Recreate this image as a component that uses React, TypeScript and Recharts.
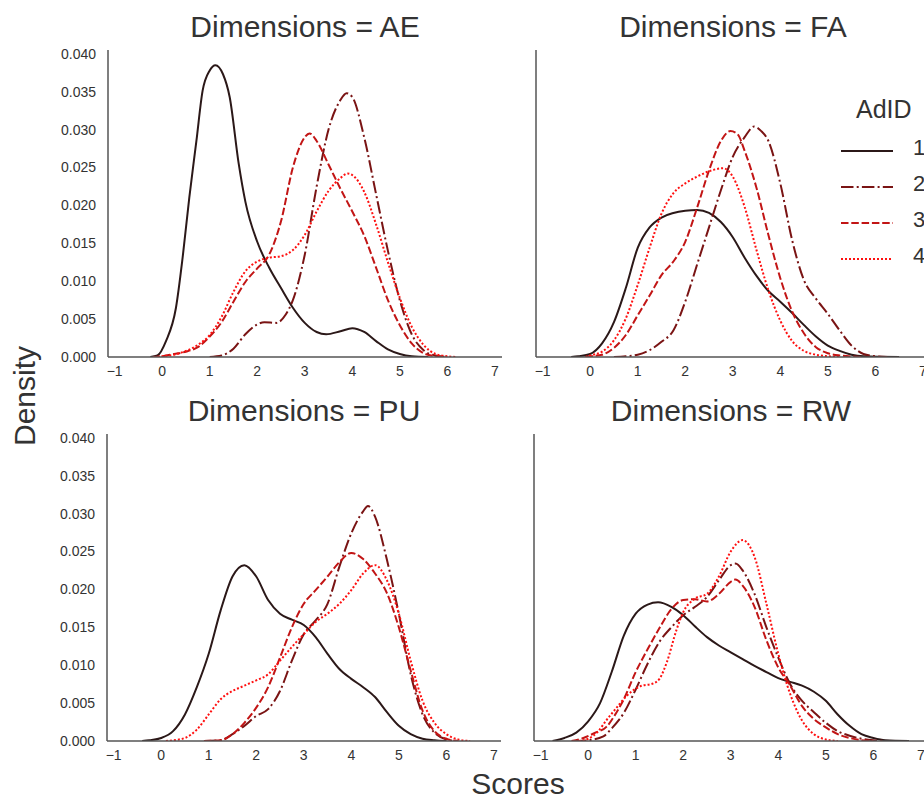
import React from 'react';
import { LineChart, Line, XAxis, YAxis } from 'recharts';

type Pt = [number, number];

// axis ticks and labels
const scoreTicks = [-1, 0, 1, 2, 3, 4, 5, 6, 7];
const densityTicks = [0, 0.005, 0.01, 0.015, 0.02, 0.025, 0.03, 0.035, 0.04];
const adIds = ['1', '2', '3', '4'];
const dimensions = ['AE', 'FA', 'PU', 'RW'];

// KDE curves: [score, density]
const ae1: Pt[] = [[-0.25, 0], [-0.1, 0.0002], [0.08, 0.0021], [0.29, 0.0065], [0.43, 0.0131], [0.57, 0.021], [0.72, 0.0285], [0.85, 0.0351], [1.0, 0.0378], [1.12, 0.0385], [1.28, 0.0373], [1.42, 0.0343], [1.61, 0.0255], [1.75, 0.0205], [2.0, 0.0152], [2.25, 0.0118], [2.5, 0.0091], [2.75, 0.0065], [3.0, 0.0045], [3.25, 0.0033], [3.45, 0.003], [3.75, 0.0034], [4.0, 0.0038], [4.25, 0.0033], [4.5, 0.0021], [4.75, 0.001], [5.0, 0.0004], [5.25, 0.0001], [5.6, 0]];
const ae2: Pt[] = [[1.0, 0], [1.25, 0.0002], [1.5, 0.0011], [1.75, 0.003], [2.0, 0.0043], [2.15, 0.0046], [2.4, 0.0045], [2.6, 0.0056], [2.75, 0.0075], [3.0, 0.0135], [3.25, 0.0225], [3.5, 0.03], [3.75, 0.0339], [3.88, 0.0348], [4.0, 0.0343], [4.25, 0.029], [4.5, 0.0215], [4.75, 0.014], [5.0, 0.0075], [5.25, 0.003], [5.5, 0.0009], [5.75, 0.0002], [6.0, 0]];
const ae3: Pt[] = [[-0.2, 0], [0, 0.0001], [0.25, 0.0004], [0.5, 0.0007], [0.75, 0.0013], [1.0, 0.0027], [1.25, 0.0046], [1.5, 0.0073], [1.75, 0.0099], [2.0, 0.0117], [2.25, 0.0135], [2.5, 0.0179], [2.75, 0.025], [3.0, 0.029], [3.1, 0.0295], [3.25, 0.0285], [3.5, 0.0254], [3.75, 0.0222], [4.0, 0.0192], [4.25, 0.016], [4.5, 0.0118], [4.75, 0.0075], [5.0, 0.0042], [5.25, 0.0018], [5.5, 0.0005], [5.75, 0.0001], [6.0, 0]];
const ae4: Pt[] = [[-0.1, 0], [0, 0.0001], [0.25, 0.0003], [0.5, 0.0008], [0.75, 0.0016], [1.0, 0.0029], [1.25, 0.0053], [1.5, 0.0086], [1.75, 0.0113], [2.0, 0.0126], [2.25, 0.0131], [2.5, 0.0133], [2.75, 0.0141], [3.0, 0.0161], [3.25, 0.0192], [3.5, 0.0219], [3.75, 0.0236], [3.9, 0.0242], [4.0, 0.024], [4.25, 0.0218], [4.5, 0.0175], [4.75, 0.0125], [5.0, 0.0078], [5.25, 0.004], [5.5, 0.0016], [5.75, 0.0004], [6.0, 0.0001], [6.2, 0]];

const fa1: Pt[] = [[-0.4, 0], [-0.25, 0.0001], [0, 0.0004], [0.25, 0.0018], [0.5, 0.0046], [0.75, 0.0091], [1.0, 0.0144], [1.25, 0.0171], [1.5, 0.0184], [1.75, 0.019], [2.0, 0.0193], [2.25, 0.0194], [2.5, 0.019], [2.75, 0.0178], [3.0, 0.0158], [3.25, 0.0131], [3.5, 0.0107], [3.75, 0.0087], [4.0, 0.0073], [4.25, 0.0058], [4.5, 0.0042], [4.75, 0.0027], [5.0, 0.0015], [5.25, 0.0008], [5.5, 0.0003], [5.75, 0.0001], [6.5, 0]];
const fa2: Pt[] = [[0.5, 0], [0.75, 0.0001], [1.0, 0.0003], [1.25, 0.0009], [1.5, 0.002], [1.75, 0.0035], [2.0, 0.0073], [2.25, 0.0122], [2.5, 0.0171], [2.75, 0.022], [3.0, 0.0264], [3.25, 0.029], [3.45, 0.0304], [3.6, 0.0298], [3.75, 0.0285], [4.0, 0.0229], [4.25, 0.0154], [4.5, 0.0101], [4.75, 0.0077], [5.0, 0.0057], [5.25, 0.0035], [5.5, 0.0015], [5.75, 0.0004], [6.0, 0.0001], [6.25, 0]];
const fa3: Pt[] = [[-0.1, 0], [0, 0.0001], [0.25, 0.0003], [0.5, 0.0012], [0.75, 0.0029], [1.0, 0.0055], [1.25, 0.0081], [1.5, 0.0108], [1.75, 0.0126], [2.0, 0.0152], [2.25, 0.0197], [2.5, 0.0246], [2.75, 0.0285], [2.95, 0.0298], [3.1, 0.0294], [3.25, 0.0272], [3.5, 0.0223], [3.75, 0.0161], [4.0, 0.0104], [4.25, 0.006], [4.5, 0.0031], [4.75, 0.0013], [5.0, 0.0005], [5.25, 0.0002], [5.75, 0]];
const fa4: Pt[] = [[-0.1, 0], [0, 0.0002], [0.25, 0.0007], [0.5, 0.0022], [0.75, 0.0051], [1.0, 0.0095], [1.25, 0.0144], [1.5, 0.0189], [1.75, 0.0216], [2.0, 0.0229], [2.25, 0.0238], [2.5, 0.0245], [2.8, 0.0249], [3.0, 0.0238], [3.25, 0.0198], [3.5, 0.0141], [3.75, 0.0088], [4.0, 0.0048], [4.25, 0.0021], [4.5, 0.0008], [4.75, 0.0003], [5.0, 0.0001], [5.25, 0]];

const pu1: Pt[] = [[-0.4, 0], [-0.25, 0.0001], [0, 0.0004], [0.25, 0.0013], [0.5, 0.0035], [0.75, 0.0071], [1.0, 0.0115], [1.25, 0.0172], [1.5, 0.0217], [1.75, 0.0232], [2.0, 0.0217], [2.25, 0.0186], [2.5, 0.0168], [2.75, 0.016], [3.0, 0.0153], [3.25, 0.0137], [3.5, 0.0115], [3.75, 0.0095], [4.0, 0.0082], [4.25, 0.0071], [4.5, 0.0058], [4.75, 0.0038], [5.0, 0.002], [5.25, 0.0009], [5.5, 0.0003], [5.75, 0.0001], [6.0, 0]];
const pu2: Pt[] = [[0.9, 0], [1.25, 0.0001], [1.5, 0.0009], [1.75, 0.002], [2.0, 0.0033], [2.25, 0.0042], [2.5, 0.0066], [2.75, 0.0106], [3.0, 0.0141], [3.25, 0.0159], [3.5, 0.0181], [3.75, 0.023], [4.0, 0.0274], [4.25, 0.0303], [4.35, 0.031], [4.5, 0.0296], [4.75, 0.0239], [5.0, 0.0168], [5.25, 0.0088], [5.5, 0.0035], [5.75, 0.0011], [6.0, 0.0002], [6.25, 0]];
const pu3: Pt[] = [[0.9, 0], [1.25, 0.0001], [1.5, 0.0009], [1.75, 0.0024], [2.0, 0.0044], [2.25, 0.0071], [2.5, 0.011], [2.75, 0.015], [3.0, 0.0181], [3.25, 0.0199], [3.5, 0.0217], [3.75, 0.0236], [4.0, 0.0248], [4.25, 0.024], [4.5, 0.0221], [4.75, 0.0195], [5.0, 0.015], [5.25, 0.0093], [5.5, 0.004], [5.75, 0.0013], [6.0, 0.0003], [6.25, 0]];
const pu4: Pt[] = [[0.1, 0], [0.25, 0.0001], [0.5, 0.0004], [0.75, 0.0015], [1.0, 0.0035], [1.25, 0.0055], [1.5, 0.0066], [1.75, 0.0073], [2.0, 0.008], [2.25, 0.0088], [2.5, 0.0106], [2.75, 0.0124], [3.0, 0.0141], [3.25, 0.0157], [3.5, 0.0168], [3.75, 0.0181], [4.0, 0.0199], [4.25, 0.0221], [4.5, 0.0232], [4.75, 0.0212], [5.0, 0.0168], [5.25, 0.0106], [5.5, 0.0053], [5.75, 0.0024], [6.0, 0.0009], [6.25, 0.0002], [6.5, 0]];

const rw1: Pt[] = [[-0.75, 0], [-0.5, 0.0004], [-0.25, 0.0011], [0, 0.0026], [0.25, 0.005], [0.5, 0.0092], [0.75, 0.0139], [1.0, 0.0168], [1.25, 0.018], [1.47, 0.0183], [1.75, 0.0177], [2.0, 0.0166], [2.25, 0.0151], [2.5, 0.0137], [2.75, 0.0126], [3.0, 0.0117], [3.25, 0.0108], [3.5, 0.0099], [3.75, 0.0091], [4.0, 0.0083], [4.25, 0.0078], [4.5, 0.0073], [4.75, 0.0065], [5.0, 0.0053], [5.25, 0.0035], [5.5, 0.002], [5.75, 0.0009], [6.0, 0.0004], [6.25, 0.0001], [6.75, 0]];
const rw2: Pt[] = [[-0.3, 0], [0, 0.0001], [0.32, 0.0006], [0.5, 0.0017], [0.75, 0.0037], [1.0, 0.0068], [1.25, 0.0102], [1.5, 0.0131], [1.75, 0.015], [2.0, 0.0166], [2.25, 0.0177], [2.5, 0.019], [2.75, 0.0212], [3.0, 0.0232], [3.1, 0.0234], [3.25, 0.0225], [3.5, 0.0194], [3.75, 0.015], [4.0, 0.011], [4.25, 0.0075], [4.5, 0.0053], [4.75, 0.0038], [5.0, 0.0024], [5.25, 0.0013], [5.5, 0.0007], [5.75, 0.0003], [6.0, 0.0001], [6.25, 0]];
const rw3: Pt[] = [[-0.35, 0], [-0.1, 0.0004], [0.15, 0.0011], [0.39, 0.0019], [0.55, 0.0033], [0.74, 0.0054], [1.0, 0.0091], [1.25, 0.0121], [1.5, 0.0149], [1.75, 0.0174], [2.0, 0.0186], [2.25, 0.0187], [2.5, 0.0184], [2.75, 0.0194], [3.0, 0.021], [3.1, 0.0213], [3.25, 0.0205], [3.5, 0.0177], [3.75, 0.0133], [4.0, 0.0097], [4.25, 0.0073], [4.5, 0.0046], [4.75, 0.0029], [5.0, 0.0018], [5.25, 0.0009], [5.5, 0.0004], [5.75, 0.0001], [6.0, 0]];
const rw4: Pt[] = [[-0.2, 0], [0, 0.0003], [0.2, 0.0012], [0.39, 0.0028], [0.6, 0.0044], [0.8, 0.0059], [1.09, 0.0072], [1.37, 0.0076], [1.5, 0.0082], [1.65, 0.0103], [1.86, 0.0147], [2.0, 0.017], [2.25, 0.0188], [2.5, 0.0194], [2.75, 0.0217], [3.0, 0.025], [3.25, 0.0265], [3.5, 0.0243], [3.75, 0.0181], [4.0, 0.0115], [4.25, 0.0062], [4.5, 0.0027], [4.75, 0.0009], [5.0, 0.0002], [5.25, 0]];

const curvesByDim: Record<string, Pt[][]> = {
  AE: [ae1, ae2, ae3, ae4],
  FA: [fa1, fa2, fa3, fa4],
  PU: [pu1, pu2, pu3, pu4],
  RW: [rw1, rw2, rw3, rw4],
};

const FONT = '"Liberation Sans", Arial, Helvetica, sans-serif';
const TEXT = '#333';
const AXIS = '#555';
const colors = ['#2b1818', '#7a1414', '#c21515', '#ff1010'];
const dashes = [undefined, '12.5 3.2 2 3.2', '7.5 2.8', '2 2'];

const PLOT_W = 394;
const PLOT_H = 307;
const X_DOMAIN: [number, number] = [-1.14, 7.15];
const Y_DOMAIN: [number, number] = [0, 0.0405];

// plot-area top-left for each facet, in page pixels
const layout = [
  { left: 108, top: 50, showY: true },
  { left: 536, top: 50, showY: false },
  { left: 107, top: 434, showY: true },
  { left: 534, top: 434, showY: false },
];

const fmtScore = (v: number) => (v < 0 ? '\u2212' + Math.abs(v) : String(v));

function Facet({ dim, left, top, showY }: { dim: string; left: number; top: number; showY: boolean }) {
  const yw = showY ? 100 : 1;
  const tick = { fill: TEXT, fontSize: 14, fontFamily: FONT };
  return (
    <div style={{ position: 'absolute', left: left - yw, top: top - 10 }}>
      <LineChart
        width={yw + PLOT_W + 10}
        height={10 + PLOT_H + 30}
        margin={{ top: 10, right: 10, bottom: 0, left: 0 }}
      >
        <XAxis
          type="number"
          dataKey="x"
          domain={X_DOMAIN}
          ticks={scoreTicks}
          interval={0}
          allowDataOverflow
          tickLine={false}
          axisLine={{ stroke: AXIS, strokeWidth: 1.5 }}
          tick={tick}
          tickFormatter={fmtScore}
          tickMargin={3}
          height={30}
        />
        <YAxis
          type="number"
          domain={Y_DOMAIN}
          ticks={densityTicks}
          allowDataOverflow
          width={yw}
          tickLine={false}
          axisLine={{ stroke: AXIS, strokeWidth: 1.5 }}
          tick={showY ? tick : false}
          tickFormatter={(v: number) => v.toFixed(3)}
          tickMargin={6}
        />
        {curvesByDim[dim].map((pts, i) => (
          <Line
            key={adIds[i]}
            name={adIds[i]}
            data={pts.map(([x, y]) => ({ x, y }))}
            dataKey="y"
            type="monotone"
            stroke={colors[i]}
            strokeWidth={2}
            strokeDasharray={dashes[i]}
            dot={false}
            activeDot={false}
            isAnimationActive={false}
          />
        ))}
      </LineChart>
    </div>
  );
}

export default function App() {
  const legendRows = [151, 187, 223, 259];
  return (
    <div
      style={{
        position: 'fixed',
        left: 0,
        top: 0,
        width: 924,
        height: 796,
        overflow: 'hidden',
        background: '#fff',
      }}
    >
      {dimensions.map((dim, i) => (
        <Facet key={dim} dim={dim} {...layout[i]} />
      ))}
      <svg
        width={924}
        height={796}
        style={{ position: 'absolute', left: 0, top: 0, pointerEvents: 'none' }}
        fontFamily={FONT}
      >
        {dimensions.map((dim, i) => (
          <text
            key={dim}
            x={layout[i].left + PLOT_W / 2}
            y={layout[i].top - 13}
            textAnchor="middle"
            fontSize={30}
            fill={TEXT}
          >
            {`Dimensions = ${dim}`}
          </text>
        ))}
        <text x={35} y={396} transform="rotate(-90 35 396)" textAnchor="middle" fontSize={30} fill={TEXT}>
          Density
        </text>
        <text x={518} y={794} textAnchor="middle" fontSize={30} fill={TEXT}>
          Scores
        </text>
        {/* legend */}
        <text x={856} y={118} fontSize={25} fill={TEXT}>
          AdID
        </text>
        {adIds.map((id, i) => (
          <g key={id}>
            <line
              x1={841}
              x2={893}
              y1={legendRows[i]}
              y2={legendRows[i]}
              stroke={colors[i]}
              strokeWidth={2}
              strokeDasharray={dashes[i]}
            />
            <text x={913} y={legendRows[i] + 4} fontSize={22} fill={TEXT}>
              {id}
            </text>
          </g>
        ))}
      </svg>
    </div>
  );
}
